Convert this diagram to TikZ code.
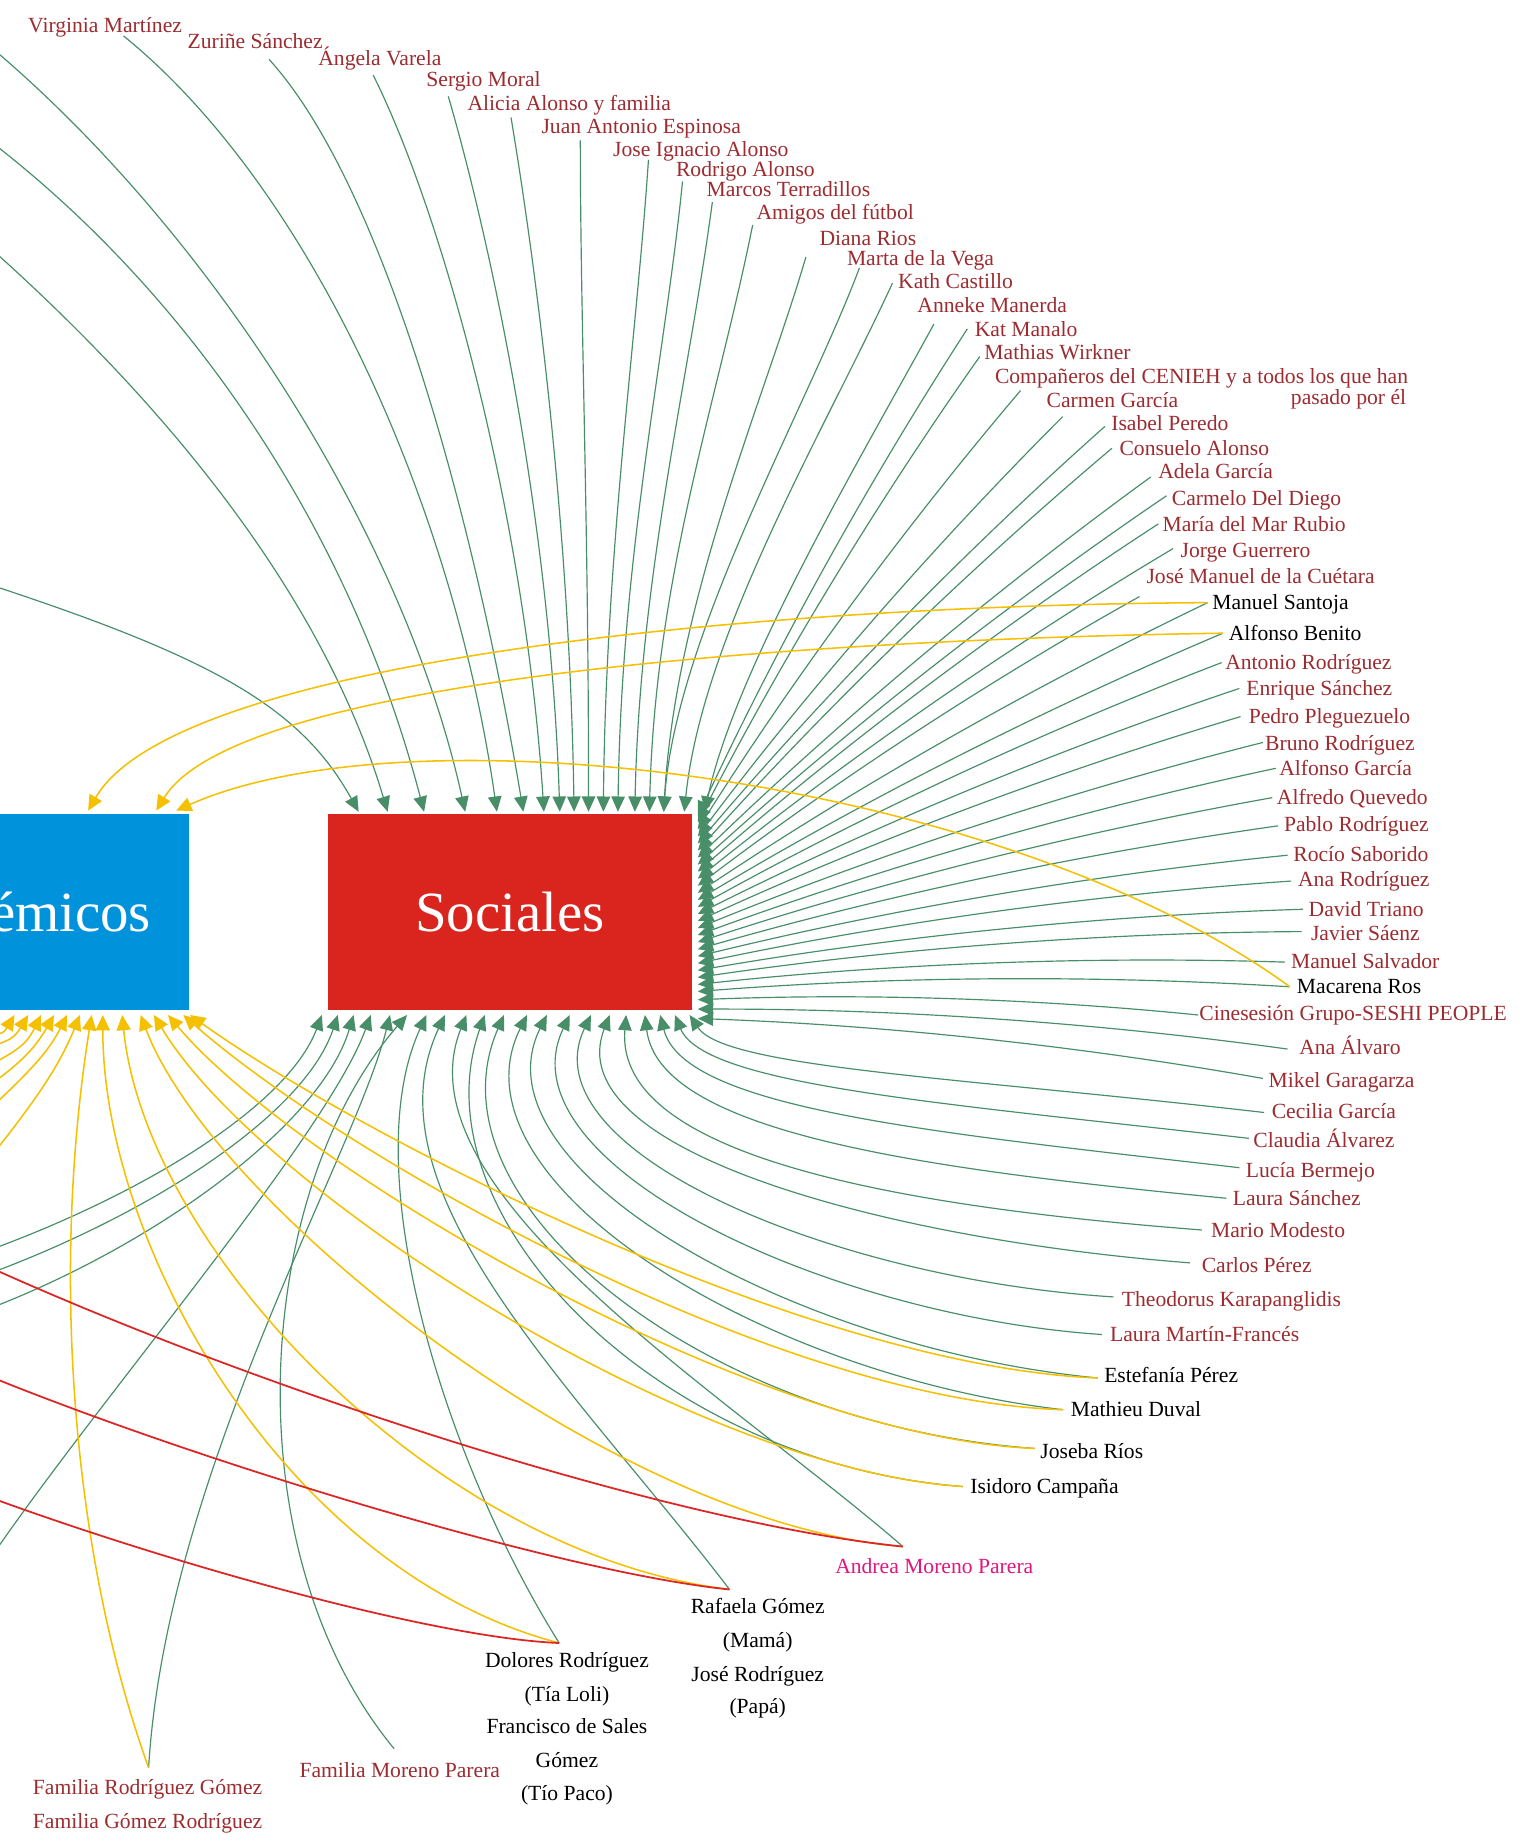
\documentclass[tikz,border=0pt]{standalone}
\usepackage{fontspec}
\setmainfont{Liberation Serif}
\usetikzlibrary{arrows.meta,calc}
\definecolor{gcol}{RGB}{72,142,104}
\definecolor{ycol}{RGB}{245,192,0}
\definecolor{rcol}{RGB}{220,38,38}
\definecolor{lblred}{RGB}{156,44,48}
\definecolor{lblpink}{RGB}{226,22,126}
\definecolor{boxblue}{RGB}{0,147,220}
\definecolor{boxred}{RGB}{217,37,29}
\begin{document}
\begin{tikzpicture}[x=1pt,y=-1pt,
  lbl/.style={anchor=base west,inner sep=0pt,outer sep=0pt,text=lblred,font=\fontsize{18.4}{22}\selectfont},
  blk/.style={lbl,text=black},
  ctr/.style={lbl,text=black,anchor=base},
  gl/.style={draw=gcol,line width=1pt,-{Triangle[length=13pt,width=11.5pt]}},
  yl/.style={draw=ycol,line width=1.3pt,-{Triangle[length=13pt,width=12pt]}},
  rl/.style={draw=rcol,line width=1.5pt},
  catbox/.style={inner sep=0pt,outer sep=0pt,minimum height=167pt,text=white,font=\fontsize{48.4}{50}\selectfont}]

\useasboundingbox (0,0) rectangle (1298,1568);
\fill[white] (0,0) rectangle (1298,1568);
\clip (0,0) rectangle (1298,1568);

% category boxes
\node[catbox,fill=boxblue,minimum width=304pt] (aca) at (9,776.5) {Académicos};
\node[catbox,fill=boxred,minimum width=310pt] (soc) at (434,776.5) {Sociales};

% arrow tips on the boxes
\foreach \n/\x in {1/305.3,2/330,3/361,4/396,5/423,6/445.5,7/463,8/476.5,9/488.7,10/501,11/513.6,12/526,13/540.4,14/552.8,15/565,16/582.5,17/600}
  \coordinate (T\n) at ($(soc.north west)+(\x-279,-2)$);
\foreach \n/\y in {1/695,2/700,3/706,4/712,5/718,6/724,7/730,8/736,9/742,10/748,11/754,12/760,13/766,14/772,15/778,16/784,17/790,18/796,19/802,20/808,21/814,22/820,23/826,24/832,25/838,26/844,27/851,28/859,29/867}
  \coordinate (R\n) at ($(soc.north east)+(5,\y-693)$);
\foreach \n/\x in {1/274,2/287.6,3/301,4/315.6,5/332,6/346.5,7/363,8/378.7,9/397,10/412.6,11/429,12/448.6,13/465.5,14/485,15/503,16/519,17/533,18/549,19/562,20/574.5,21/587}
  \coordinate (B\n) at ($(soc.south west)+(\x-279,4)$);
\foreach \n/\x in {1/0,2/12.4,3/24,4/35,5/46,6/57,7/68,8/78,9/87.5,10/104,11/119.7,12/131,13/143,14/156,15/161.8}
  \coordinate (U\n) at ($(aca.south east)+(\x-161,4)$);
\foreach \n/\x in {0/-3,1/75,2/133,3/150}
  \coordinate (V\n) at ($(aca.north east)+(\x-161,-3)$);

% ---------- labels ----------
\node[lbl] (vma) at (24,27.6) {Virginia Martínez};
\node[lbl] (zsa) at (159.7,41) {Zuriñe Sánchez};
\node[lbl] (ava) at (271,55.6) {Ángela Varela};
\node[lbl] (smo) at (363,73.6) {Sergio Moral};
\node[lbl] (aal) at (398,93.9) {Alicia Alonso y familia};
\node[lbl] (jae) at (461,114) {Juan Antonio Espinosa};
\node[lbl] (jia) at (522,133) {Jose Ignacio Alonso};
\node[lbl] (ral) at (575.5,150) {Rodrigo Alonso};
\node[lbl] (mte) at (601.5,167) {Marcos Terradillos};
\node[lbl] (afu) at (644,187) {Amigos del fútbol};
\node[lbl] (dri) at (697.6,208.7) {Diana Rios};
\node[lbl] (mve) at (721,226.4) {Marta de la Vega};
\node[lbl] (kca) at (764.6,245.7) {Kath Castillo};
\node[lbl] (ama) at (781,266) {Anneke Manerda};
\node[lbl] (kma) at (829.8,286.8) {Kat Manalo};
\node[lbl] (mwi) at (838,306) {Mathias Wirkner};
\node[lbl] (cen) at (847,326.6) {Compañeros del CENIEH y a todos los que han};
\node[lbl,anchor=base east] (cen2) at (1197,344) {pasado por él};
\node[lbl] (cga) at (891,347) {Carmen García};
\node[lbl] (ipe) at (946,366.8) {Isabel Peredo};
\node[lbl] (cal) at (953,387.6) {Consuelo Alonso};
\node[lbl] (adg) at (986,407.4) {Adela García};
\node[lbl] (cdd) at (997.6,430) {Carmelo Del Diego};
\node[lbl] (mmr) at (989.6,452.8) {María del Mar Rubio};
\node[lbl] (jgu) at (1005,474.7) {Jorge Guerrero};
\node[lbl] (jmc) at (976,496.8) {José Manuel de la Cuétara};
\node[blk] (msa) at (1032,519) {Manuel Santoja};
\node[blk] (abe) at (1046,545.6) {Alfonso Benito};
\node[lbl] (aro) at (1043,570) {Antonio Rodríguez};
\node[lbl] (esa) at (1061,592) {Enrique Sánchez};
\node[lbl] (ppl) at (1063,616) {Pedro Pleguezuelo};
\node[lbl] (bro) at (1077,638.6) {Bruno Rodríguez};
\node[lbl] (alg) at (1089,660) {Alfonso García};
\node[lbl] (aqu) at (1087,685) {Alfredo Quevedo};
\node[lbl] (pro) at (1093,708) {Pablo Rodríguez};
\node[lbl] (rsa) at (1101,733.7) {Rocío Saborido};
\node[lbl] (anr) at (1105,755) {Ana Rodríguez};
\node[lbl] (dtr) at (1114,780.5) {David Triano};
\node[lbl] (jsa) at (1116,801) {Javier Sáenz};
\node[lbl] (msl) at (1099,824.7) {Manuel Salvador};
\node[blk] (mro) at (1104,846) {Macarena Ros};
\node[lbl] (cin) at (1021,869) {Cinesesión Grupo-SESHI PEOPLE};
\node[lbl] (aav) at (1106,898) {Ana Álvaro};
\node[lbl] (mga) at (1080,926) {Mikel Garagarza};
\node[lbl] (cgr) at (1082.6,952) {Cecilia García};
\node[lbl] (cla) at (1067,977) {Claudia Álvarez};
\node[lbl] (lbe) at (1060.6,1002) {Lucía Bermejo};
\node[lbl] (lsa) at (1049.5,1026) {Laura Sánchez};
\node[lbl] (mmo) at (1031,1053.6) {Mario Modesto};
\node[lbl] (cpe) at (1023,1083) {Carlos Pérez};
\node[lbl] (tka) at (955,1112) {Theodorus Karapanglidis};
\node[lbl] (lmf) at (945,1142) {Laura Martín-Francés};
\node[blk] (epe) at (940,1177) {Estefanía Pérez};
\node[blk] (mdu) at (911.6,1206) {Mathieu Duval};
\node[blk] (jri) at (885.7,1241.5) {Joseba Ríos};
\node[blk] (ica) at (826,1271.3) {Isidoro Campaña};
\node[lbl,text=lblpink] (amp) at (711,1339.6) {Andrea Moreno Parera};
\node[ctr] (rg1) at (645,1373.6) {Rafaela Gómez};
\node[ctr] (rg2) at (645,1402.5) {(Mamá)};
\node[ctr] (rg3) at (645,1431) {José Rodríguez};
\node[ctr] (rg4) at (645,1459) {(Papá)};
\node[ctr] (dl1) at (482.6,1419.6) {Dolores Rodríguez};
\node[ctr] (dl2) at (482.6,1448.6) {(Tía Loli)};
\node[ctr] (dl3) at (482.6,1476) {Francisco de Sales};
\node[ctr] (dl4) at (482.6,1504.6) {Gómez};
\node[ctr] (dl5) at (482.6,1533) {(Tío Paco)};
\node[lbl] (fmp) at (255,1513) {Familia Moreno Parera};
\node[lbl] (frg) at (28,1527.6) {Familia Rodríguez Gómez};
\node[lbl] (fgr) at (28,1556.6) {Familia Gómez Rodríguez};

% ---------- connector start points ----------
\coordinate (pVM) at (105.2,30.6);  \coordinate (pZS) at (229,50.5);
\coordinate (pAV) at (317.7,64);    \coordinate (pSM) at (381.6,82);
\coordinate (pAA) at (435,100);     \coordinate (pJA) at (494,119.4);
\coordinate (pJI) at (552,136);     \coordinate (pRA) at (581,154.5);
\coordinate (pMT) at (606.4,172);   \coordinate (pAF) at (640.7,191.5);
\coordinate (pDR) at (686,218.8);   \coordinate (pMV) at (731.6,228);
\coordinate (pKC) at (759.7,241);   \coordinate (pAM) at (795,275.8);
\coordinate (pKM) at (823.4,280);   \coordinate (pMW) at (834,303.5);
\coordinate (pCE) at (868.7,332.5); \coordinate (pCG) at (904.7,354.6);
\coordinate (pIP) at (940.5,363);   \coordinate (pCA) at (946.5,381.6);
\coordinate (pAG) at (979.6,406);   \coordinate (pCD) at (993,422);
\coordinate (pMMR) at (986,446);    \coordinate (pJG) at (998.5,467);
\coordinate (pJM) at (970,507.8);   \coordinate (pMS) at (1028,513);
\coordinate (pAB) at (1041,539);    \coordinate (pAR) at (1040,564);
\coordinate (pES) at (1055,586);    \coordinate (pPP) at (1056,610);
\coordinate (pBR) at (1075,632);    \coordinate (pAL) at (1086,654);
\coordinate (pAQ) at (1083,679);    \coordinate (pPR) at (1088,703);
\coordinate (pRS) at (1096,728);    \coordinate (pAN) at (1099,750);
\coordinate (pDT) at (1109,774);    \coordinate (pJS) at (1108,793);
\coordinate (pMSl) at (1094,819);   \coordinate (pMRo) at (1098,840);
\coordinate (pCI) at (1020,864);    \coordinate (pAAv) at (1096,893);
\coordinate (pMG) at (1075,918);    \coordinate (pCGr) at (1076,947);
\coordinate (pCL) at (1063,969);    \coordinate (pLB) at (1055,994);
\coordinate (pLS) at (1044,1020);   \coordinate (pMM) at (1023,1047);
\coordinate (pCP) at (1013,1075);   \coordinate (pTK) at (948,1104);
\coordinate (pLM) at (938,1136);    \coordinate (pEP) at (934.5,1173);
\coordinate (pMD) at (905,1200);    \coordinate (pJR) at (881,1233);
\coordinate (pIC) at (819.5,1265.4);\coordinate (pAMP) at (768.6,1316.5);
\coordinate (pRG) at (621,1353);    \coordinate (pDL) at (476,1398.6);
\coordinate (pFMP) at (335.5,1488.6);\coordinate (pFRG) at (126.5,1504.7);
% ends of links that run on beyond the left border
\coordinate (oA) at (-20,494);  \coordinate (oB) at (-30,192);
\coordinate (oC) at (-30,104);  \coordinate (oD) at (-30,22);
\coordinate (oE) at (-40,1075); \coordinate (oF) at (-40,1095);
\coordinate (oG) at (-40,1125); \coordinate (oH) at (-30,1360);
\coordinate (oY1) at (-30,880); \coordinate (oY2) at (-30,890);
\coordinate (oY3) at (-30,903); \coordinate (oY4) at (-30,920);
\coordinate (oY5) at (-30,940); \coordinate (oY6) at (-30,965);
\coordinate (oY7) at (-20,1000);\coordinate (oV0) at (-80,600);
\coordinate (oR1) at (-60,1055);\coordinate (oR2) at (-60,1150);
\coordinate (oR3) at (-60,1255);

% ---------- green links into "Sociales" ----------
% top side
\draw[gl] (oA) .. controls +(200,65) and +(-50,-90) .. (T1);
\draw[gl] (oB) .. controls +(150,130) and +(-60,-200) .. (T2);
\draw[gl] (oC) .. controls +(180,130) and +(-65,-249) .. (T3);
\draw[gl] (oD) .. controls +(190,150) and +(-55,-250) .. (T4);
\draw[gl] (pVM) .. controls +(160,130) and +(-37,-260) .. (T5);
\draw[gl] (pZS) .. controls +(100,110) and +(-40,-240) .. (T6);
\draw[gl] (pAV) .. controls +(60,120) and +(-16,-250) .. (T7);
\draw[gl] (pSM) .. controls +(35,120) and +(-8,-250) .. (T8);
\draw[gl] (pAA) .. controls +(20,120) and +(-4,-250) .. (T9);
\draw[gl] (pJA) .. controls +(0,150) and +(0,-250) .. (T10);
\draw[gl] (pJI) .. controls +(-10,150) and +(2,-220) .. (T11);
\draw[gl] (pRA) .. controls +(-15,150) and +(3,-220) .. (T12);
\draw[gl] (pMT) .. controls +(-20,150) and +(4,-200) .. (T13);
\draw[gl] (pAF) .. controls +(-30,150) and +(5,-200) .. (T14);
\draw[gl] (pDR) .. controls +(-35,120) and +(10,-180) .. (T15);
\draw[gl] (pMV) .. controls +(-45,120) and +(10,-150) .. (T15);
\draw[gl] (pKC) .. controls +(-55,120) and +(15,-150) .. (T16);
\draw[gl] (pAM) .. controls +(-60,110) and +(25,-120) .. (T17);
% right side
\foreach \a/\n in {pKM/1,pMW/2,pCE/3,pCG/4,pIP/5,pCA/6,pAG/7,pCD/8,pMMR/9,pJG/10,
                   pJM/11,pMS/12,pAB/13,pAR/14,pES/15,pPP/16,pBR/17,pAL/18,pAQ/19,pPR/20,
                   pRS/21,pAN/22,pDT/23,pJS/24,pMSl/25,pMRo/26,pCI/27,pAAv/28,pMG/29}
  \draw[gl] (\a) .. controls ($(\a)!0.33!-4:(R\n)$) and ($(R\n)!0.33!4:(\a)$) .. (R\n);
% bottom side
\draw[gl] (oE) .. controls +(150,-50) and +(-30,80) .. (B1);
\draw[gl] (oF) .. controls +(150,-50) and +(-30,90) .. (B2);
\draw[gl] (oG) .. controls +(150,-50) and +(-30,100) .. (B3);
\draw[gl] (oH) .. controls +(80,-130) and +(-40,110) .. (B4);
\draw[gl] (pFRG) .. controls +(15,-250) and +(-30,120) .. (B5);
\draw[gl] (pFMP) .. controls +(-140,-170) and +(-130,150) .. (B6);
\draw[gl] (pDL) .. controls +(-100,-160) and +(-60,130) .. (B7);
\draw[gl] (pRG) .. controls +(-130,-170) and +(-70,150) .. (B8);
\draw[gl] (pAMP) .. controls +(-150,-130) and +(-60,150) .. (B9);
\draw[gl] (pIC) .. controls +(-260,-20) and +(-60,170) .. (B10);
\draw[gl] (pJR) .. controls +(-280,-20) and +(-70,160) .. (B11);
\draw[gl] (pMD) .. controls +(-260,-30) and +(-70,140) .. (B12);
\draw[gl] (pEP) .. controls +(-260,-25) and +(-65,130) .. (B13);
\draw[gl] (pLM) .. controls +(-238,-16) and +(-60,125) .. (B14);
\draw[gl] (pTK) .. controls +(-240,-15) and +(-55,115) .. (B15);
\draw[gl] (pCP) .. controls +(-260,-20) and +(-45,115) .. (B16);
\draw[gl] (pMM) .. controls +(-260,-20) and +(-10,120) .. (B17);
\draw[gl] (pLS) .. controls +(-260,-25) and +(12,100) .. (B18);
\draw[gl] (pLB) .. controls +(-260,-30) and +(20,80) .. (B19);
\draw[gl] (pCL) .. controls +(-260,-30) and +(25,60) .. (B20);
\draw[gl] (pCGr) .. controls +(-260,-30) and +(30,45) .. (B21);

% ---------- yellow links into "Académicos" ----------
\draw[yl] (oV0) .. controls +(30,20) and +(-10,-30) .. (V0);
\draw[yl] (pMS) .. controls +(-378,2) and +(75,-129) .. (V1);
\draw[yl] (pAB) .. controls +(-391,6) and +(67,-109) .. (V2);
\draw[yl] (pMRo) .. controls +(-248,-180) and +(200,-89) .. (V3);
\draw[yl] (oY1) .. controls +(20,-10) and +(-10,15) .. (U1);
\draw[yl] (oY2) .. controls +(30,-15) and +(-12,20) .. (U2);
\draw[yl] (oY3) .. controls +(35,-20) and +(-15,25) .. (U3);
\draw[yl] (oY4) .. controls +(40,-25) and +(-15,30) .. (U4);
\draw[yl] (oY5) .. controls +(40,-30) and +(-20,35) .. (U5);
\draw[yl] (oY6) .. controls +(40,-40) and +(-20,40) .. (U6);
\draw[yl] (oY7) .. controls +(40,-50) and +(-20,50) .. (U7);
\draw[yl] (pFRG) .. controls +(-65,-180) and +(-35,220) .. (U8);
\draw[yl] (pDL) .. controls +(-230,-60) and +(0,200) .. (U9);
\draw[yl] (pRG) .. controls +(-250,-30) and +(20,200) .. (U10);
\draw[yl] (pAMP) .. controls +(-250,-20) and +(60,160) .. (U11);
\draw[yl] (pIC) .. controls +(-230,-15) and +(90,150) .. (U12);
\draw[yl] (pJR) .. controls +(-240,-10) and +(110,130) .. (U13);
\draw[yl] (pMD) .. controls +(-250,-8) and +(130,115) .. (U14);
\draw[yl] (pEP) .. controls +(-250,-10) and +(140,100) .. (U15);

% ---------- red links leaving to the left ----------
\draw[rl] (pAMP) .. controls +(-200,-20) and +(250,120) .. (oR1);
\draw[rl] (pRG) .. controls +(-150,-15) and +(180,80) .. (oR2);
\draw[rl] (pDL) .. controls +(-120,-5) and +(150,60) .. (oR3);
\end{tikzpicture}
\end{document}
